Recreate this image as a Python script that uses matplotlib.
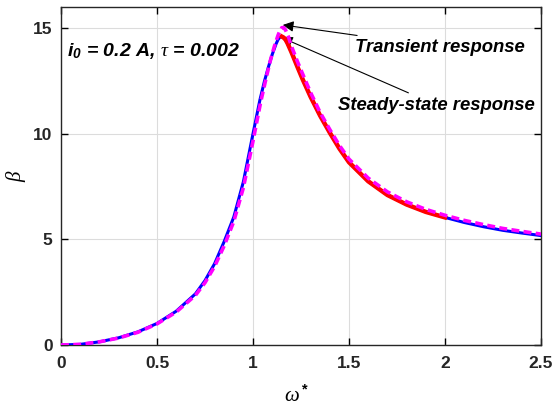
import matplotlib
matplotlib.use("Agg")
import matplotlib.pyplot as plt

plt.rcParams['font.family'] = ['Liberation Sans', 'DejaVu Sans']
plt.rcParams['mathtext.fontset'] = 'custom'
plt.rcParams['mathtext.it'] = 'Liberation Serif:italic'
plt.rcParams['mathtext.rm'] = 'Liberation Sans:bold'
plt.rcParams['mathtext.bfit'] = 'Liberation Sans:italic:bold'

# Frequency-response data: dimensionless frequency vs. amplitude ratio beta
omega_ss = [0.0, 0.1, 0.2, 0.3, 0.4, 0.5, 0.6, 0.7, 0.75, 0.8, 0.85, 0.9, 0.95,
            1.0, 1.036, 1.06, 1.08, 1.1, 1.12, 1.13, 1.14, 1.15, 1.16, 1.17,
            1.18, 1.2, 1.23, 1.26, 1.3, 1.35, 1.4, 1.45, 1.5, 1.6, 1.7, 1.8,
            1.9, 2.0, 2.1, 2.2, 2.3, 2.4, 2.5]
beta_ss = [0.0, 0.03, 0.15, 0.34, 0.62, 1.02, 1.6, 2.42, 3.05, 3.85, 4.9, 6.06, 7.73,
           10.0, 11.6, 12.5, 13.15, 13.75, 14.25, 14.45, 14.57, 14.6, 14.55, 14.45,
           14.28, 13.87, 13.2, 12.55, 11.75, 10.85, 10.05, 9.3, 8.65, 7.75, 7.1,
           6.65, 6.3, 6.04, 5.8, 5.6, 5.43, 5.3, 5.18]

# Portion of the steady-state branch traced in red (from the peak down to omega* = 2)
omega_red_start = 1.15
omega_red_end = 2.0

omega_tr = [0.0, 0.1, 0.2, 0.3, 0.4, 0.5, 0.6, 0.7, 0.75, 0.8, 0.85, 0.9, 0.95,
            1.0, 1.04, 1.07, 1.09, 1.11, 1.13, 1.14, 1.15, 1.16, 1.17, 1.185,
            1.2, 1.23, 1.26, 1.3, 1.35, 1.4, 1.45, 1.5, 1.6, 1.7, 1.8, 1.9, 2.0,
            2.1, 2.2, 2.3, 2.4, 2.5]
beta_tr = [0.0, 0.03, 0.15, 0.33, 0.6, 1.0, 1.56, 2.35, 2.95, 3.72, 4.7, 5.85, 7.45,
           9.65, 11.5, 12.7, 13.45, 14.1, 14.65, 14.88, 15.02, 15.03, 14.9, 14.58,
           14.15, 13.45, 12.8, 11.95, 11.0, 10.2, 9.45, 8.8, 7.9, 7.25, 6.78, 6.42,
           6.14, 5.9, 5.7, 5.52, 5.38, 5.25]

xticks = [0, 0.5, 1, 1.5, 2, 2.5]
xtick_labels = ['0', '0.5', '1', '1.5', '2', '2.5']
yticks = [0, 5, 10, 15]
ytick_labels = ['0', '5', '10', '15']

fig = plt.figure(figsize=(5.53, 4.07), dpi=100)
ax = fig.add_axes([61 / 553, 1 - 345 / 407, 480 / 553, 338 / 407])

red_omega = [w for w in omega_ss if omega_red_start <= w <= omega_red_end]
red_beta = [b for w, b in zip(omega_ss, beta_ss) if omega_red_start <= w <= omega_red_end]

ax.plot(omega_ss, beta_ss, color='#0000ff', lw=2.2, zorder=3)
ax.plot(red_omega, red_beta, color='#ff0000', lw=3.2, zorder=4)
ax.plot(omega_tr, beta_tr, color='#ff00ff', lw=2.6, ls=(0, (2.2, 1.2)), zorder=5)

ax.set_xlim(0, 2.5)
ax.set_ylim(0, 16)
ax.set_xticks(xticks)
ax.set_xticklabels(xtick_labels)
ax.set_yticks(yticks)
ax.set_yticklabels(ytick_labels)
ax.grid(True, color='#dcdcdc', lw=0.8)
ax.set_axisbelow(True)
ax.tick_params(direction='in', length=5, width=1.0, top=True, right=True,
               labelsize=12.5)
ax.tick_params(axis='x', pad=8)
ax.tick_params(axis='y', pad=6)
for lbl in ax.get_xticklabels() + ax.get_yticklabels():
    lbl.set_fontweight('bold')
    lbl.set_color('#262626')
for sp in ax.spines.values():
    sp.set_linewidth(1.0)
    sp.set_color('#262626')

ax.set_xlabel(r'$\omega^*$', fontsize=15)
ax.set_ylabel(r'$\beta$', fontsize=15)
ax.xaxis.set_label_coords(0.49, -0.116)
ax.yaxis.set_label_coords(-0.068, 0.5)

ax.text(0.03, 13.9, r'$\mathbfit{i}_{\mathbfit{0}}$ = 0.2 A, $\tau$ = 0.002', fontsize=14,
        fontweight='bold', fontstyle='italic', va='center', ha='left')

ax.annotate('Transient response', xy=(1.155, 15.15), xytext=(1.53, 14.1),
            fontsize=13.3, fontweight='bold', fontstyle='italic', va='center',
            arrowprops=dict(arrowstyle='-|>', color='black', lw=0.8,
                            mutation_scale=16, shrinkA=2, shrinkB=0))
ax.annotate('Steady-state response', xy=(1.15, 14.55), xytext=(1.445, 11.35),
            fontsize=13.3, fontweight='bold', fontstyle='italic', va='center',
            arrowprops=dict(arrowstyle='-|>', color='black', lw=0.8,
                            mutation_scale=16, shrinkA=2, shrinkB=0))

fig.savefig('out.png', dpi=100)
